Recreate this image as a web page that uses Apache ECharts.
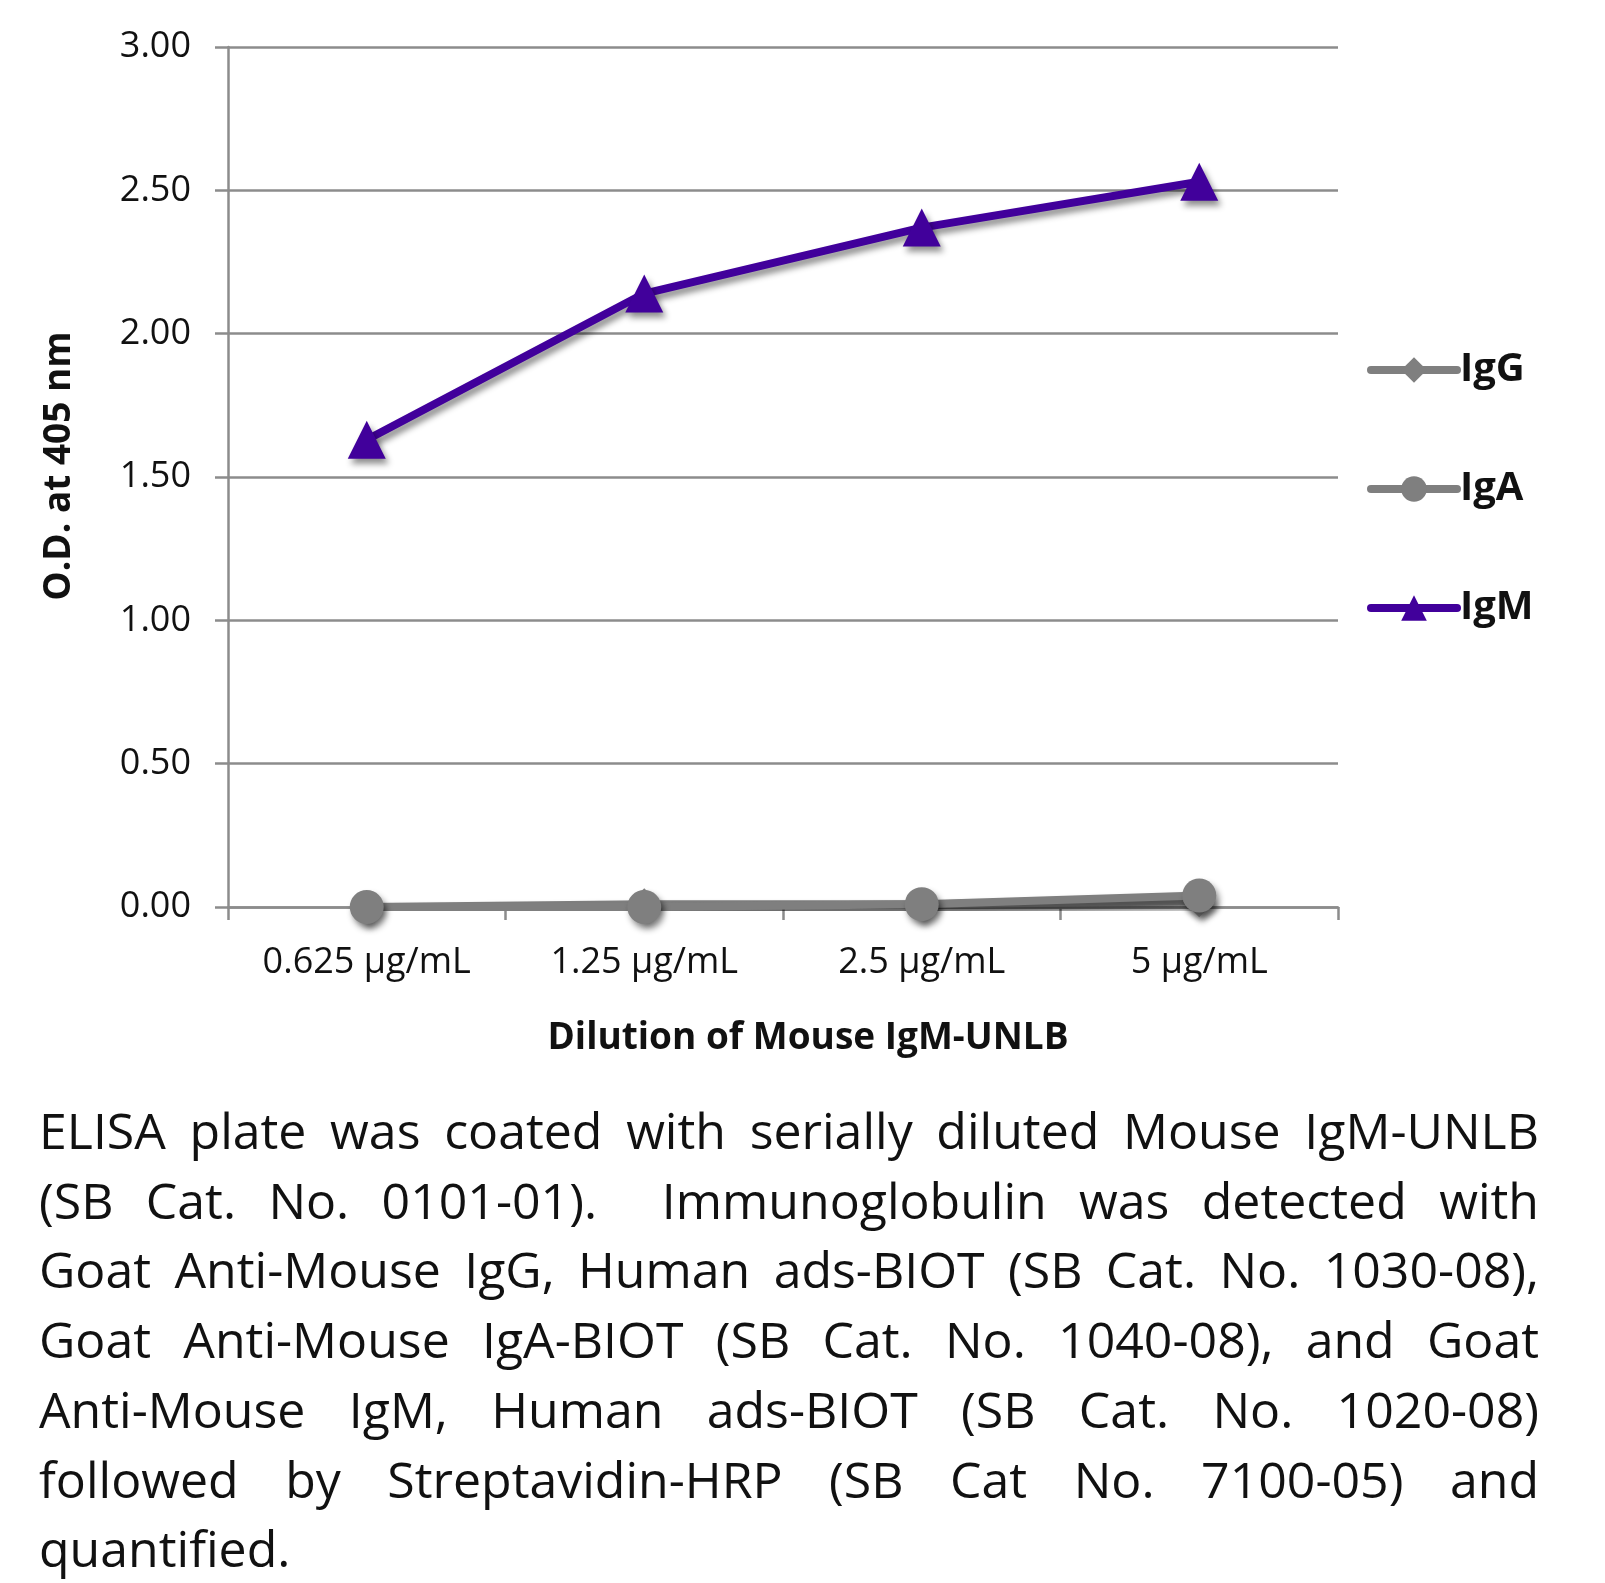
<!DOCTYPE html>
<html><head><meta charset="utf-8">
<script src="https://cdn.jsdelivr.net/npm/echarts@6/dist/echarts.min.js"></script>
<style>
html,body{margin:0;padding:0;background:#fff;}
#chart{width:1605px;height:1080px;}
#cap{position:absolute;left:39px;top:1096px;width:1500px;font-family:"Open Sans",sans-serif;font-size:50px;line-height:69.7px;color:#111;}
#cap div{text-align:justify;text-align-last:justify;white-space:nowrap;}
#cap div.last{text-align-last:left;}
</style></head>
<body>
<div id="chart"></div>
<div id="cap">
<div>ELISA plate was coated with serially diluted Mouse IgM-UNLB</div>
<div>(SB Cat. No. 0101-01).&nbsp; Immunoglobulin was detected with</div>
<div>Goat Anti-Mouse IgG, Human ads-BIOT (SB Cat. No. 1030-08),</div>
<div>Goat Anti-Mouse IgA-BIOT (SB Cat. No. 1040-08), and Goat</div>
<div>Anti-Mouse IgM, Human ads-BIOT (SB Cat. No. 1020-08)</div>
<div>followed by Streptavidin-HRP (SB Cat No. 7100-05) and</div>
<div class="last">quantified.</div>
</div>
<script>
const categories = ['0.625 µg/mL', '1.25 µg/mL', '2.5 µg/mL', '5 µg/mL'];
const igG = [0.00, 0.01, 0.01, 0.02];
const igA = [0.00, 0.00, 0.01, 0.04];
const igM = [1.63, 2.14, 2.37, 2.53];

const font = '"Open Sans", sans-serif';
const gray = '#7f7f7f';
const purple = '#41009b';
const shadow = {shadowBlur: 6, shadowColor: 'rgba(0,0,0,0.45)', shadowOffsetX: 3, shadowOffsetY: 5};

const chart = echarts.init(document.getElementById('chart'));
function mk(name, data, color, symbol, size) {
  return {
    name, type: 'line', data, symbol, symbolSize: size,
    lineStyle: Object.assign({color, width: 8}, shadow),
    itemStyle: Object.assign({color}, shadow),
    z: 3
  };
}
chart.setOption({
  animation: false,
  grid: {left: 228, right: 267, top: 47, bottom: 173},
  legend: {
    orient: 'vertical', left: 1362, top: 345, itemGap: 79,
    itemWidth: 86, itemHeight: 32,
    lineStyle: {width: 8, cap: 'round', shadowBlur: 0, shadowOffsetX: 0, shadowOffsetY: 0},
    itemStyle: {shadowBlur: 0, shadowOffsetX: 0, shadowOffsetY: 0},
    textStyle: {fontFamily: font, fontWeight: 'bold', fontSize: 40, color: '#111', padding: [0,0,0,-2]},
    data: ['IgG', 'IgA', 'IgM']
  },
  xAxis: {
    type: 'category', data: categories, boundaryGap: true,
    name: 'Dilution of Mouse IgM-UNLB', nameLocation: 'middle', nameGap: 113,
    nameTextStyle: {fontFamily: font, fontWeight: 'bold', fontSize: 37, color: '#111', padding: [0,0,0,50]},
    axisLine: {lineStyle: {color: '#8c8c8c', width: 2.5}},
    axisTick: {show: true, interval: 0, length: 13, lineStyle: {color: '#8c8c8c', width: 2.5}},
    axisLabel: {fontFamily: font, fontSize: 36, color: '#111', margin: 38}
  },
  yAxis: {
    type: 'value', min: 0, max: 3, interval: 0.5,
    name: 'O.D. at 405 nm', nameLocation: 'middle', nameGap: 150, nameRotate: 90,
    nameTextStyle: {fontFamily: font, fontWeight: 'bold', fontSize: 37, color: '#111', padding: [0,0,0,22]},
    axisLine: {show: true, lineStyle: {color: '#8c8c8c', width: 2.5}},
    axisTick: {show: true, length: 13, lineStyle: {color: '#8c8c8c', width: 2.5}},
    splitLine: {lineStyle: {color: '#8c8c8c', width: 2.5}},
    axisLabel: {fontFamily: font, fontSize: 36, color: '#111', margin: 37,
      formatter: v => v.toFixed(2)}
  },
  series: [
    mk('IgG', igG, gray, 'diamond', 32),
    mk('IgA', igA, gray, 'circle', 34),
    mk('IgM', igM, purple, 'triangle', 38)
  ]
});
</script>
</body></html>
